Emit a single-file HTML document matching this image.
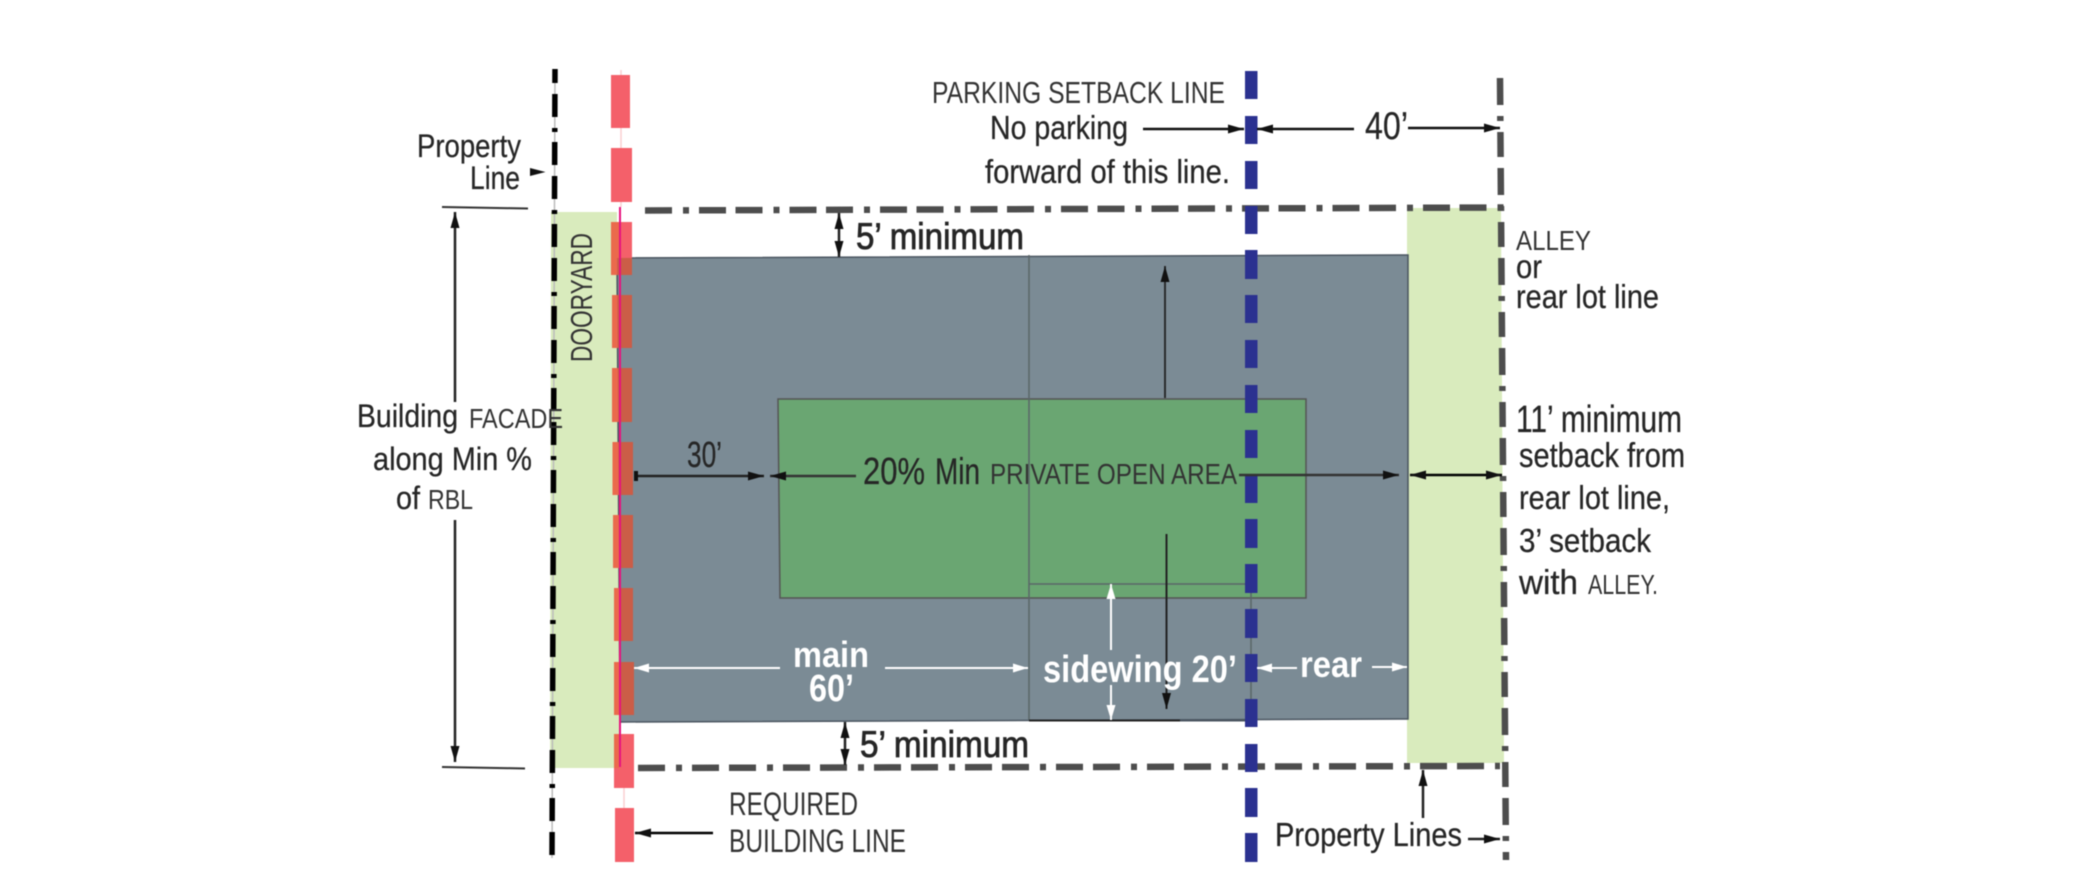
<!DOCTYPE html>
<html><head><meta charset="utf-8"><style>
html,body{margin:0;padding:0;background:#fff}
svg{display:block;filter:blur(.4px)}
text{font-family:"Liberation Sans",sans-serif;fill:#262626;stroke:#262626;stroke-width:.25}
.b{fill:#fff;stroke:none;font-weight:bold}
.h{stroke-width:.8}
.t{fill:#333;stroke:none}
</style></head><body>
<svg width="2078" height="878" viewBox="0 0 2078 878" xmlns="http://www.w3.org/2000/svg">
<defs>
<marker id="a" markerUnits="userSpaceOnUse" markerWidth="18" markerHeight="10" refX="16" refY="5" orient="auto-start-reverse"><path d="M0 .5L16 5L0 9.500z" fill="#111"/></marker>
<marker id="w" markerUnits="userSpaceOnUse" markerWidth="16" markerHeight="10" refX="15" refY="5" orient="auto-start-reverse"><path d="M0 .5L15 5L0 9.500z" fill="#fff"/></marker>
<g id="red">
<rect x="611" y="75" width="19" height="53"/><rect x="611" y="148" width="21" height="54"/><rect x="611" y="222" width="21" height="53"/>
<rect x="612" y="295" width="20" height="53"/><rect x="612" y="368" width="20" height="54"/><rect x="612.500" y="442" width="20.500" height="53"/>
<rect x="613" y="515" width="20" height="53"/><rect x="614" y="588" width="19" height="53"/><rect x="614" y="662" width="20" height="53"/>
<rect x="614" y="734" width="20" height="54"/><rect x="615" y="808" width="19" height="54"/>
</g>
<clipPath id="cb"><polygon points="617,258 1408,255 1408,719 620,722"/></clipPath>
<clipPath id="cd"><rect x="550" y="212" width="69" height="556"/></clipPath>
</defs>

<polygon points="551,212 617,212 620,768 550,768" fill="#d9ebbd"/>
<polygon points="1407,208 1501,208 1504,763 1407,763" fill="#d9ebbd"/>
<polygon points="617,258 1408,255 1408,719 620,722" fill="#7b8b95" stroke="#4a5560" stroke-width="1.500"/>
<polygon points="778,399 1306,399 1306,598 780,598" fill="#6aa672" stroke="#555" stroke-width="1.500"/>
<path d="M1029 255V720M1029 584H1250M1251 584V720" fill="none" stroke="#5a6668" stroke-width="1.500"/>
<path d="M1029 720.500H1180" stroke="#222" stroke-width="2"/>
<path d="M1180 720.500H1250" stroke="#4a5560" stroke-width="2"/>

<path d="M555 69L552 858" stroke="#bbb" stroke-width="1.500"/>
<path d="M621 70V207M624 770V860" stroke="#fbcfd2" stroke-width="1.500"/>
<path d="M555 69L552 858" stroke="#000" stroke-width="5.500" fill="none" stroke-dasharray="23 11 23 11 4 10" stroke-dashoffset="9"/>
<use href="#red" fill="#f4606a"/>
<use href="#red" fill="#ea6a4c" clip-path="url(#cd)"/>
<use href="#red" fill="#cb5d47" clip-path="url(#cb)"/>
<path d="M620 207V767" stroke="#e6137e" stroke-width="2"/>

<path d="M645 210.500L1505 207.500" stroke="#4d4d4d" stroke-width="6.500" fill="none" stroke-dasharray="27 11 6 10 27 9.500"/>
<path d="M638 768L1500 766" stroke="#4d4d4d" stroke-width="6.500" fill="none" stroke-dasharray="27 11 6 10 27 10"/>
<path d="M1500 78L1506 860" stroke="#4d4d4d" stroke-width="6.500" fill="none" stroke-dasharray="27 11 5 11 25 11"/>

<g fill="#2b3190">
<rect x="1245" y="71" width="12.500" height="28"/><rect x="1245" y="116" width="12.500" height="28"/><rect x="1245" y="161" width="12.500" height="28"/>
<rect x="1245" y="206" width="12.500" height="28"/><rect x="1245" y="250" width="12.500" height="29"/><rect x="1245" y="295" width="12.500" height="28"/>
<rect x="1245" y="340" width="12.500" height="28"/><rect x="1245" y="385" width="12.500" height="28"/><rect x="1245" y="430" width="12.500" height="28"/>
<rect x="1245" y="475" width="12.500" height="28"/><rect x="1245" y="519" width="12.500" height="29"/><rect x="1245" y="564" width="12.500" height="29"/>
<rect x="1245" y="609" width="12.500" height="29"/><rect x="1245" y="654" width="12.500" height="28"/><rect x="1245" y="699" width="12.500" height="28"/>
<rect x="1245" y="744" width="12.500" height="28"/><rect x="1245" y="788" width="12.500" height="29"/><rect x="1245" y="833" width="12.500" height="29"/>
</g>

<g fill="none" stroke="#222" stroke-width="2.500">
<path d="M442 207L528 208.500M442 767L525 768.500" stroke-width="2" stroke="#333"/>
<path d="M455 402V212" marker-end="url(#a)"/>
<path d="M455 520V762" marker-end="url(#a)"/>
<path d="M530 168L545.500 172L530 176z" fill="#111" stroke="none"/>
<path d="M839 213V257" marker-start="url(#a)" marker-end="url(#a)"/>
<path d="M845 722V765" marker-start="url(#a)" marker-end="url(#a)"/>
<path d="M1143 129H1244" stroke="#111" marker-end="url(#a)"/>
<path d="M1354 129H1257" stroke="#111" marker-end="url(#a)"/>
<path d="M1408 128H1500" stroke="#111" marker-end="url(#a)"/>
<path d="M634 476H764" marker-end="url(#a)" stroke="#222"/>
<path d="M636 471V481" stroke="#111" stroke-width="4"/>
<path d="M856 476H770" marker-end="url(#a)" stroke="#333"/>
<path d="M1239 475H1399" marker-end="url(#a)" stroke="#333"/>
<path d="M1410 475H1502" stroke="#000" marker-start="url(#a)" marker-end="url(#a)"/>
<path d="M1165 398V266" stroke-width="1.800" marker-end="url(#a)"/>
<path d="M1166.500 534V709" stroke-width="2" marker-end="url(#a)"/>
<path d="M713 833H635" stroke="#000" marker-end="url(#a)"/>
<path d="M1423 818V770" marker-end="url(#a)"/>
<path d="M1468 839H1500" marker-end="url(#a)"/>
</g>
<g fill="none" stroke="#fff" stroke-width="2">
<path d="M780 668H634" marker-end="url(#w)"/>
<path d="M885 668H1028" marker-end="url(#w)"/>
<path d="M1111 650V584" marker-end="url(#w)"/>
<path d="M1111 685V720" marker-end="url(#w)"/>
<path d="M1297 668H1257" marker-end="url(#w)"/>
<path d="M1372 667H1407" marker-end="url(#w)"/>
</g>

<text x="417" y="157" font-size="32" textLength="104" lengthAdjust="spacingAndGlyphs">Property</text>
<text x="470" y="189" font-size="32" textLength="50" lengthAdjust="spacingAndGlyphs">Line</text>
<text transform="translate(592 362) rotate(-90)" font-size="31" class="t" textLength="129" lengthAdjust="spacingAndGlyphs">DOORYARD</text>
<text x="932" y="103" font-size="31" class="t" textLength="293" lengthAdjust="spacingAndGlyphs">PARKING SETBACK LINE</text>
<text x="990" y="139" font-size="33" textLength="138" lengthAdjust="spacingAndGlyphs">No parking</text>
<text x="985" y="183" font-size="33" textLength="245" lengthAdjust="spacingAndGlyphs">forward of this line.</text>
<text x="1365" y="139" font-size="39" textLength="43" lengthAdjust="spacingAndGlyphs">40’</text>
<text x="856" y="249" font-size="37" class="h" textLength="168" lengthAdjust="spacingAndGlyphs">5’ minimum</text>
<text x="860" y="757" font-size="37" class="h" textLength="169" lengthAdjust="spacingAndGlyphs">5’ minimum</text>
<text x="1516" y="250" font-size="28" class="t" textLength="75" lengthAdjust="spacingAndGlyphs">ALLEY</text>
<text x="1516" y="278" font-size="33" textLength="26" lengthAdjust="spacingAndGlyphs">or</text>
<text x="1516" y="308" font-size="33" textLength="143" lengthAdjust="spacingAndGlyphs">rear lot line</text>
<text x="1516" y="432" font-size="38" textLength="166" lengthAdjust="spacingAndGlyphs">11’ minimum</text>
<text x="1519" y="467" font-size="34" textLength="166" lengthAdjust="spacingAndGlyphs">setback from</text>
<text x="1519" y="509" font-size="33" textLength="151" lengthAdjust="spacingAndGlyphs">rear lot line,</text>
<text x="1519" y="552" font-size="33" textLength="132" lengthAdjust="spacingAndGlyphs">3’ setback</text>
<text x="1519" y="594" font-size="34" textLength="59" lengthAdjust="spacingAndGlyphs">with</text>
<text x="1588" y="594" font-size="28" class="t" textLength="70" lengthAdjust="spacingAndGlyphs">ALLEY.</text>
<text x="357" y="427" font-size="32" textLength="101" lengthAdjust="spacingAndGlyphs">Building</text>
<text x="469" y="428" font-size="28" class="t" textLength="94" lengthAdjust="spacingAndGlyphs">FACADE</text>
<text x="373" y="470" font-size="32" textLength="159" lengthAdjust="spacingAndGlyphs">along Min %</text>
<text x="396" y="509" font-size="32" textLength="24" lengthAdjust="spacingAndGlyphs">of</text>
<text x="428" y="509" font-size="28" class="t" textLength="45" lengthAdjust="spacingAndGlyphs">RBL</text>
<text x="687" y="467" font-size="36" textLength="35" lengthAdjust="spacingAndGlyphs">30’</text>
<text x="863" y="484" font-size="38" textLength="62" lengthAdjust="spacingAndGlyphs">20%</text>
<text x="935" y="484" font-size="37" textLength="45" lengthAdjust="spacingAndGlyphs">Min</text>
<text x="990" y="484" font-size="29" class="t" textLength="247" lengthAdjust="spacingAndGlyphs">PRIVATE OPEN AREA</text>
<text x="793" y="667" font-size="36" class="b" textLength="76" lengthAdjust="spacingAndGlyphs">main</text>
<text x="809" y="701" font-size="38" class="b" textLength="45" lengthAdjust="spacingAndGlyphs">60’</text>
<text x="1043" y="682" font-size="38" class="b" textLength="194" lengthAdjust="spacingAndGlyphs">sidewing 20’</text>
<text x="1300" y="677" font-size="37" class="b" textLength="62" lengthAdjust="spacingAndGlyphs">rear</text>
<text x="729" y="815" font-size="32" class="t" textLength="129" lengthAdjust="spacingAndGlyphs">REQUIRED</text>
<text x="729" y="852" font-size="32" class="t" textLength="177" lengthAdjust="spacingAndGlyphs">BUILDING LINE</text>
<text x="1275" y="846" font-size="33" textLength="187" lengthAdjust="spacingAndGlyphs">Property Lines</text>
</svg>
</body></html>
